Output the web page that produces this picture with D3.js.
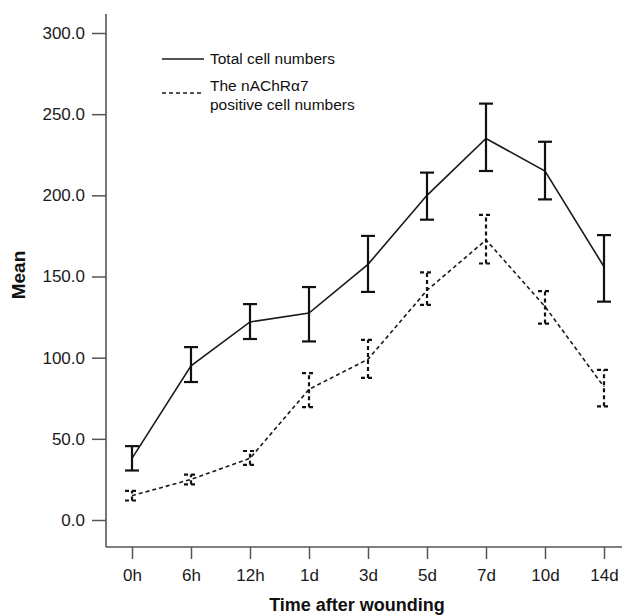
<!DOCTYPE html>
<html>
<head>
<meta charset="utf-8">
<script src="https://cdn.jsdelivr.net/npm/d3@7"></script>
<style>
  body { margin: 0; background: #fff; }
  text { font-family: "Liberation Sans", Arial, sans-serif; }
</style>
</head>
<body>
<div id="chart"></div>
<script>
// time points
var times = ["0h", "6h", "12h", "1d", "3d", "5d", "7d", "10d", "14d"]

// Total cell numbers: mean and error bar ends
var totalMean = [38, 95, 122, 127.5, 157.5, 200, 235, 215, 156]
var totalLow = [30.5, 85, 111.5, 110, 140.5, 185, 215, 197.5, 134.5]
var totalHigh = [45.5, 106.5, 133, 143.5, 175, 214, 256.5, 233, 175.5]

// The nAChRα7 positive cell numbers
var posMean = [15, 25, 38, 80.5, 99, 141.5, 172.5, 131.5, 82]
var posLow = [12, 22, 34, 69.5, 87.5, 132.5, 158, 121, 70]
var posHigh = [18, 28, 42.5, 90.5, 111, 152.5, 188, 141, 92.5]

var yTicks = [0, 50, 100, 150, 200, 250, 300]

var width = 622, height = 615

var svg = d3.select("#chart")
    .append("svg")
    .attr("width", width)
    .attr("height", height)

var x0 = 106, yBottom = 547

var x = d3.scalePoint()
    .domain(times)
    .range([132, 604])

var y = d3.scaleLinear()
    .domain([0, 300])
    .range([520, 33])

// y axis
var yAxis = svg.append("g")
    .attr("transform", "translate(" + x0 + ",0)")
    .call(d3.axisLeft(y).tickValues(yTicks).tickSize(14).tickPadding(7).tickFormat(d3.format(".1f")))
yAxis.select(".domain").remove()
yAxis.selectAll("line").attr("stroke", "#555").attr("stroke-width", 1.5)
yAxis.selectAll("text").attr("font-size", 17).attr("fill", "#1a1a1a")

svg.append("line")
    .attr("x1", x0).attr("x2", x0)
    .attr("y1", 14).attr("y2", yBottom)
    .attr("stroke", "#555").attr("stroke-width", 1.6)

// x axis
var xAxis = svg.append("g")
    .attr("transform", "translate(0," + yBottom + ")")
    .call(d3.axisBottom(x).tickSize(12).tickPadding(10))
xAxis.select(".domain").remove()
xAxis.selectAll("line").attr("stroke", "#555").attr("stroke-width", 1.5)
xAxis.selectAll("text").attr("font-size", 17).attr("fill", "#1a1a1a")

svg.append("line")
    .attr("x1", x0).attr("x2", width)
    .attr("y1", yBottom).attr("y2", yBottom)
    .attr("stroke", "#555").attr("stroke-width", 1.6)

// axis titles
svg.append("text")
    .attr("x", 357).attr("y", 611)
    .attr("text-anchor", "middle")
    .attr("font-size", 18).attr("font-weight", "bold")
    .attr("fill", "#111")
    .text("Time after wounding")

svg.append("text")
    .attr("transform", "translate(25,275) rotate(-90)")
    .attr("text-anchor", "middle")
    .attr("font-size", 19).attr("font-weight", "bold")
    .attr("fill", "#111")
    .text("Mean")

function drawSeries(mean, low, high, dash) {
    var line = d3.line()
        .x(function(d, i) { return x(times[i]) })
        .y(function(d) { return y(d) })

    svg.append("path")
        .datum(mean)
        .attr("d", line)
        .attr("fill", "none")
        .attr("stroke", "#1a1a1a")
        .attr("stroke-width", 1.6)
        .attr("stroke-dasharray", dash)

    var bars = svg.append("g")
    times.forEach(function(t, i) {
        var cx = x(t)
        bars.append("line")
            .attr("x1", cx).attr("x2", cx)
            .attr("y1", y(low[i])).attr("y2", y(high[i]))
        bars.append("line")
            .attr("x1", cx - 7).attr("x2", cx + 7)
            .attr("y1", y(low[i])).attr("y2", y(low[i]))
        bars.append("line")
            .attr("x1", cx - 7).attr("x2", cx + 7)
            .attr("y1", y(high[i])).attr("y2", y(high[i]))
    })
    bars.selectAll("line")
        .attr("stroke", "#111")
        .attr("stroke-width", 2.2)
        .attr("stroke-dasharray", dash)
}

drawSeries(totalMean, totalLow, totalHigh, null)
drawSeries(posMean, posLow, posHigh, "4,3")

// legend
var legend = svg.append("g")
legend.append("line")
    .attr("x1", 162).attr("x2", 204)
    .attr("y1", 59).attr("y2", 59)
    .attr("stroke", "#1a1a1a").attr("stroke-width", 1.6)
legend.append("text")
    .attr("x", 210).attr("y", 64)
    .attr("font-size", 15.5).attr("fill", "#111")
    .text("Total cell numbers")
legend.append("line")
    .attr("x1", 162).attr("x2", 204)
    .attr("y1", 93).attr("y2", 93)
    .attr("stroke", "#1a1a1a").attr("stroke-width", 1.6)
    .attr("stroke-dasharray", "4,3")
legend.append("text")
    .attr("x", 210).attr("y", 91)
    .attr("font-size", 15.5).attr("fill", "#111")
    .text("The nAChRα7")
legend.append("text")
    .attr("x", 210).attr("y", 110)
    .attr("font-size", 15.5).attr("fill", "#111")
    .text("positive cell numbers")
</script>
</body>
</html>
